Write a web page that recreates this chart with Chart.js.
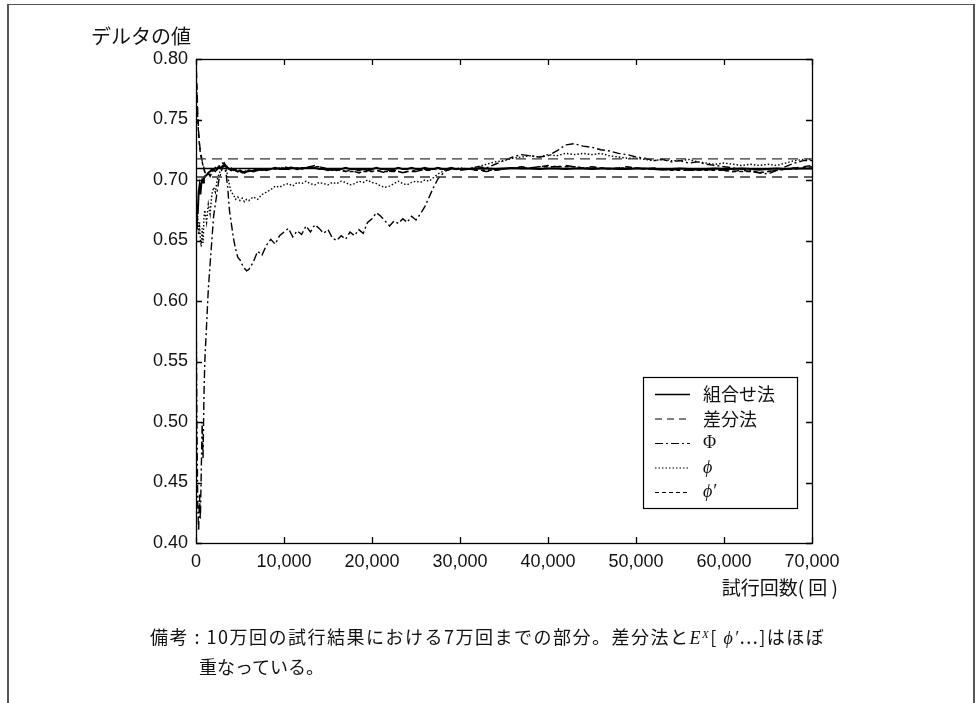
<!DOCTYPE html>
<html>
<head>
<meta charset="utf-8">
<script src="https://cdn.jsdelivr.net/npm/chart.js@4/dist/chart.umd.min.js"></script>
<style>
  html, body { margin: 0; padding: 0; background: #fff; }
  #wrap { position: relative; width: 976px; height: 703px; overflow: hidden; }
  #frame { position: absolute; left: 7px; top: 4px; width: 968px; height: 760px;
           border-style: solid; border-color: #555; border-width: 1px 2px 0 2px; box-sizing: border-box; }
  #c { position: absolute; left: 0; top: 0; }
  .note { position: absolute; font-family: "Noto Sans CJK JP", sans-serif; font-size: 18px; color: #111;
          line-height: 28px; white-space: nowrap; }
  .serif { font-family: "Liberation Serif", "DejaVu Serif", serif; font-style: italic; }
  .serif sup { font-size: 11px; vertical-align: 6px; line-height: 0; }
</style>
</head>
<body>
<div id="wrap">
  <div id="frame"></div>
  <canvas id="c" width="976" height="703"></canvas>
  <div class="note" style="left:150px; top:622px; letter-spacing:1.5px;">備考 : 10万回の試行結果における7万回までの部分。差分法と<span class="serif">E<sup>X</sup></span>[ <span class="serif">ϕ′</span>...]はほぼ</div>
  <div class="note" style="left:199px; top:652px;">重なっている。</div>
</div>
<script>
// Trial counts at which each running estimate is recorded
const trials = [
  0, 100, 200, 300, 400, 500, 600, 700, 800, 900,
  1000, 1200, 1400, 1600, 1800, 2000, 2200, 2400, 2600, 2800,
  3000, 3200, 3400, 3600, 3800, 4000, 4250, 4500, 4750, 5000,
  5250, 5500, 5750, 6000, 6500, 7000, 7500, 8000, 8500, 9000,
  9500, 10000,
  10500, 11000, 11500, 12000, 12500, 13000, 13500, 14000, 14500, 15000,
  15500, 16000, 16500, 17000, 17500, 18000, 18500, 19000, 19500, 20000,
  20500, 21000, 21500, 22000, 22500, 23000, 23500, 24000, 24500, 25000,
  25500, 26000, 26500, 27000, 27500, 28000, 28500, 29000, 29500, 30000,
  31000, 32000, 33000, 34000, 35000, 36000, 37000, 38000, 39000, 40000,
  41000, 42000, 43000, 44000, 45000, 46000, 47000, 48000, 49000, 50000,
  51000, 52000, 53000, 54000, 55000, 56000, 57000, 58000, 59000, 60000,
  61000, 62000, 63000, 64000, 65000, 66000, 67000, 68000, 69000, 70000
];

// 組合せ法
const comboDelta = [
  0.660, 0.680, 0.672, 0.690, 0.695, 0.688, 0.697, 0.700, 0.698, 0.701,
  0.703, 0.704, 0.706, 0.707, 0.709, 0.708, 0.710, 0.709, 0.711, 0.710,
  0.711, 0.712, 0.711, 0.710, 0.709, 0.708, 0.709, 0.708, 0.707, 0.708,
  0.707, 0.706, 0.707, 0.708, 0.707, 0.708, 0.709, 0.708, 0.709, 0.710,
  0.709, 0.709,
  0.709, 0.710, 0.709, 0.710, 0.710, 0.711, 0.710, 0.709, 0.709, 0.708,
  0.709, 0.708, 0.709, 0.710, 0.709, 0.709, 0.708, 0.709, 0.708, 0.709,
  0.710, 0.709, 0.709, 0.708, 0.709, 0.710, 0.709, 0.709, 0.710, 0.709,
  0.709, 0.710, 0.709, 0.709, 0.710, 0.709, 0.709, 0.710, 0.709, 0.709,
  0.709, 0.7095, 0.7095, 0.709, 0.7095, 0.710, 0.7095, 0.7095, 0.709, 0.7095,
  0.7095, 0.709, 0.7095, 0.7095, 0.709, 0.7095, 0.7095, 0.709, 0.709, 0.7095,
  0.7095, 0.709, 0.7085, 0.709, 0.7095, 0.709, 0.7085, 0.709, 0.7095, 0.709,
  0.709, 0.7095, 0.709, 0.7085, 0.709, 0.7095, 0.709, 0.7095, 0.7095, 0.7095
];

// 差分法
const diffDelta = [
  0.800, 0.780, 0.755, 0.740, 0.730, 0.724, 0.720, 0.716, 0.713, 0.710,
  0.707, 0.704, 0.706, 0.703, 0.706, 0.708, 0.707, 0.709, 0.711, 0.712,
  0.713, 0.714, 0.712, 0.711, 0.709, 0.710, 0.708, 0.709, 0.707, 0.708,
  0.706, 0.707, 0.708, 0.707, 0.708, 0.709, 0.708, 0.709, 0.710, 0.709,
  0.710, 0.711,
  0.710, 0.711, 0.710, 0.709, 0.710, 0.711, 0.712, 0.711, 0.710, 0.709,
  0.708, 0.709, 0.708, 0.707, 0.708, 0.707, 0.706, 0.707, 0.708, 0.707,
  0.708, 0.707, 0.706, 0.707, 0.708, 0.707, 0.706, 0.707, 0.708, 0.707,
  0.708, 0.709, 0.708, 0.709, 0.710, 0.709, 0.708, 0.709, 0.710, 0.709,
  0.709, 0.708, 0.707, 0.708, 0.709, 0.710, 0.711, 0.710, 0.711, 0.712,
  0.711, 0.712, 0.711, 0.710, 0.711, 0.710, 0.709, 0.710, 0.711, 0.710,
  0.709, 0.710, 0.709, 0.708, 0.709, 0.708, 0.709, 0.708, 0.709, 0.708,
  0.707, 0.708, 0.707, 0.706, 0.707, 0.708, 0.709, 0.710, 0.711, 0.712
];

// Φ
const capPhiDelta = [
  0.620, 0.500, 0.430, 0.410, 0.440, 0.420, 0.460, 0.500, 0.470, 0.520,
  0.550, 0.580, 0.610, 0.630, 0.650, 0.670, 0.680, 0.690, 0.700, 0.705,
  0.710, 0.712, 0.706, 0.694, 0.675, 0.665, 0.652, 0.643, 0.636, 0.634,
  0.630, 0.627, 0.625, 0.626, 0.632, 0.641, 0.638, 0.646, 0.651, 0.647,
  0.654, 0.657,
  0.660, 0.653, 0.658, 0.655, 0.662, 0.657, 0.663, 0.660, 0.656, 0.659,
  0.652, 0.650, 0.654, 0.651, 0.657, 0.654, 0.659, 0.656, 0.665, 0.668,
  0.673, 0.670, 0.666, 0.662, 0.666, 0.664, 0.668, 0.665, 0.670, 0.667,
  0.672, 0.678, 0.686, 0.694, 0.701, 0.705, 0.708, 0.710, 0.709, 0.708,
  0.709, 0.711, 0.710, 0.713, 0.716, 0.719, 0.721, 0.720, 0.719, 0.720,
  0.724, 0.729, 0.730, 0.728, 0.727, 0.725, 0.724, 0.722, 0.721, 0.719,
  0.718, 0.716, 0.717, 0.715, 0.716, 0.714, 0.715, 0.713, 0.712, 0.711,
  0.710, 0.709, 0.708, 0.706, 0.705, 0.708, 0.711, 0.714, 0.716, 0.716
];

// ϕ
const phiDelta = [
  0.680, 0.660, 0.670, 0.655, 0.665, 0.650, 0.645, 0.660, 0.648, 0.668,
  0.675, 0.665, 0.680, 0.672, 0.688, 0.694, 0.690, 0.700, 0.705, 0.708,
  0.712, 0.714, 0.710, 0.703, 0.696, 0.690, 0.688, 0.684, 0.686, 0.683,
  0.685, 0.682, 0.684, 0.683, 0.686, 0.684, 0.688, 0.690, 0.692, 0.695,
  0.694, 0.696,
  0.697, 0.695, 0.698, 0.697, 0.699, 0.697, 0.696, 0.698, 0.697, 0.696,
  0.698, 0.697, 0.699, 0.698, 0.696, 0.697, 0.699, 0.698, 0.700, 0.698,
  0.697, 0.695, 0.694, 0.695, 0.697, 0.699, 0.697, 0.696, 0.698, 0.699,
  0.698, 0.700, 0.699, 0.702, 0.705, 0.707, 0.709, 0.710, 0.709, 0.710,
  0.709, 0.711, 0.713, 0.715, 0.716, 0.718, 0.719, 0.720, 0.719, 0.721,
  0.720, 0.722, 0.721, 0.722, 0.721, 0.722, 0.720, 0.719, 0.718, 0.718,
  0.717, 0.716, 0.717, 0.716, 0.716, 0.717, 0.715, 0.714, 0.713, 0.714,
  0.713, 0.712, 0.713, 0.712, 0.713, 0.712, 0.714, 0.716, 0.717, 0.717
];

// ϕ′
const phiPrimeDelta = [
  0.790, 0.770, 0.750, 0.737, 0.728, 0.722, 0.718, 0.715, 0.712, 0.709,
  0.706, 0.705, 0.705, 0.704, 0.707, 0.708, 0.708, 0.710, 0.711, 0.713,
  0.714, 0.713, 0.712, 0.710, 0.709, 0.709, 0.708, 0.708, 0.707, 0.707,
  0.706, 0.707, 0.707, 0.707, 0.708, 0.708, 0.708, 0.709, 0.709, 0.709,
  0.710, 0.710,
  0.710, 0.710, 0.710, 0.709, 0.710, 0.711, 0.711, 0.711, 0.710, 0.709,
  0.708, 0.708, 0.708, 0.707, 0.707, 0.707, 0.706, 0.707, 0.707, 0.707,
  0.708, 0.707, 0.707, 0.707, 0.707, 0.707, 0.706, 0.707, 0.707, 0.707,
  0.708, 0.708, 0.708, 0.709, 0.709, 0.709, 0.708, 0.709, 0.709, 0.709,
  0.709, 0.708, 0.708, 0.708, 0.709, 0.710, 0.710, 0.710, 0.711, 0.711,
  0.711, 0.711, 0.711, 0.710, 0.710, 0.710, 0.709, 0.710, 0.710, 0.710,
  0.709, 0.709, 0.709, 0.708, 0.708, 0.708, 0.708, 0.708, 0.708, 0.708,
  0.707, 0.707, 0.707, 0.706, 0.707, 0.708, 0.709, 0.709, 0.710, 0.711
];

// Reference levels drawn across the full range
const trueDelta = 0.7095;
const bandUpper = 0.7175;
const bandLower = 0.7025;
const xRange = [0, 70000];

// Axis ticks
const yTicks = [0.40, 0.45, 0.50, 0.55, 0.60, 0.65, 0.70, 0.75, 0.80];
const xTicks = [0, 10000, 20000, 30000, 40000, 50000, 60000, 70000];

const seriesNames = ['組合せ法', '差分法', 'Φ', 'ϕ', 'ϕ′'];
const seriesValues = [comboDelta, diffDelta, capPhiDelta, phiDelta, phiPrimeDelta];
const seriesDash = [[], [7, 5], [8, 3, 2, 3], [1.5, 2], [4, 3]];
const seriesWidth = [2, 1.4, 1.4, 1.4, 1.4];
const seriesFont = [
  '18px "Noto Sans CJK JP", sans-serif',
  '18px "Noto Sans CJK JP", sans-serif',
  '18px "Liberation Serif", "DejaVu Serif", serif',
  'italic 18px "Liberation Serif", "DejaVu Serif", serif',
  'italic 18px "Liberation Serif", "DejaVu Serif", serif'
];

const toPoints = vals => trials.map((t, i) => ({ x: t, y: vals[i] }));
const levelLine = v => xRange.map(t => ({ x: t, y: v }));

const datasets = [
  { label: 'band-upper', data: levelLine(bandUpper), borderColor: '#333', borderWidth: 1.4, borderDash: [10, 6] },
  { label: 'band-lower', data: levelLine(bandLower), borderColor: '#333', borderWidth: 1.4, borderDash: [10, 6] },
  { label: 'true', data: levelLine(trueDelta), borderColor: '#000', borderWidth: 1.6 }
].concat(seriesNames.map((name, i) => ({
  label: name,
  data: toPoints(seriesValues[i]),
  borderColor: '#000',
  borderWidth: seriesWidth[i],
  borderDash: seriesDash[i]
})));

const tickFont = { family: '"Liberation Sans", Arial, sans-serif', size: 18 };

// Box around the plot with inward tick marks on all four sides, plus axis titles
const frameTicks = {
  id: 'frameTicks',
  afterDatasetsDraw(chart) {
    const { ctx, chartArea: ca, scales: { x, y } } = chart;
    ctx.save();
    ctx.strokeStyle = '#000';
    ctx.lineWidth = 1.3;
    ctx.setLineDash([]);
    ctx.strokeRect(ca.left + 0.5, ca.top + 0.5, ca.width, ca.height);
    ctx.beginPath();
    xTicks.forEach(v => {
      const px = Math.round(x.getPixelForValue(v)) + 0.5;
      ctx.moveTo(px, ca.bottom); ctx.lineTo(px, ca.bottom - 6);
      ctx.moveTo(px, ca.top); ctx.lineTo(px, ca.top + 6);
    });
    yTicks.forEach(v => {
      const py = Math.round(y.getPixelForValue(v)) + 0.5;
      ctx.moveTo(ca.left, py); ctx.lineTo(ca.left + 6, py);
      ctx.moveTo(ca.right, py); ctx.lineTo(ca.right - 6, py);
    });
    ctx.stroke();

    ctx.fillStyle = '#111';
    ctx.font = '20px "Noto Sans CJK JP", sans-serif';
    ctx.textAlign = 'right';
    ctx.textBaseline = 'middle';
    ctx.fillText('デルタの値', ca.left - 5, ca.top - 23);
    ctx.font = '19px "Noto Sans CJK JP", sans-serif';
    ctx.fillText('試行回数( 回 )', ca.right + 26, ca.bottom + 45);
    ctx.restore();
  }
};

// Key box listing each estimator with its line pattern
const seriesKey = {
  id: 'seriesKey',
  afterDraw(chart) {
    const { ctx, chartArea: ca } = chart;
    const bx = ca.left + 447, by = ca.top + 318, bw = 154, bh = 131;
    ctx.save();
    ctx.fillStyle = '#fff';
    ctx.fillRect(bx, by, bw, bh);
    ctx.strokeStyle = '#000';
    ctx.lineWidth = 1.2;
    ctx.setLineDash([]);
    ctx.strokeRect(bx + 0.5, by + 0.5, bw, bh);
    seriesNames.forEach((name, i) => {
      const ry = by + 17.5 + i * 24.5;
      ctx.beginPath();
      ctx.setLineDash(seriesDash[i]);
      ctx.lineWidth = seriesWidth[i] * 0.8;
      ctx.moveTo(bx + 12, ry);
      ctx.lineTo(bx + 47, ry);
      ctx.stroke();
      ctx.setLineDash([]);
      ctx.fillStyle = '#111';
      ctx.font = seriesFont[i];
      ctx.textAlign = 'left';
      ctx.textBaseline = 'middle';
      ctx.fillText(name, bx + 60, ry);
    });
    ctx.restore();
  }
};

new Chart(document.getElementById('c'), {
  type: 'line',
  data: { datasets },
  options: {
    responsive: false,
    animation: false,
    devicePixelRatio: 1,
    layout: { padding: { left: 0, top: 59, right: 164, bottom: 120 } },
    elements: { point: { radius: 0 }, line: { tension: 0 } },
    plugins: { legend: { display: false }, tooltip: { enabled: false } },
    scales: {
      x: {
        type: 'linear', min: 0, max: 70000,
        afterBuildTicks: s => { s.ticks = xTicks.map(v => ({ value: v })); },
        ticks: { font: tickFont, color: '#111', padding: 8, maxRotation: 0,
                 callback: v => v.toLocaleString('en-US') },
        grid: { display: false, drawTicks: false },
        border: { display: false },
        afterFit: s => { s.height = 40; }
      },
      y: {
        type: 'linear', min: 0.4, max: 0.8,
        afterBuildTicks: s => { s.ticks = yTicks.map(v => ({ value: v })); },
        ticks: { font: tickFont, color: '#111', padding: 8,
                 callback: v => v.toFixed(2) },
        grid: { display: false, drawTicks: false },
        border: { display: false },
        afterFit: s => { s.width = 196; }
      }
    }
  },
  plugins: [frameTicks, seriesKey]
});
</script>
</body>
</html>
